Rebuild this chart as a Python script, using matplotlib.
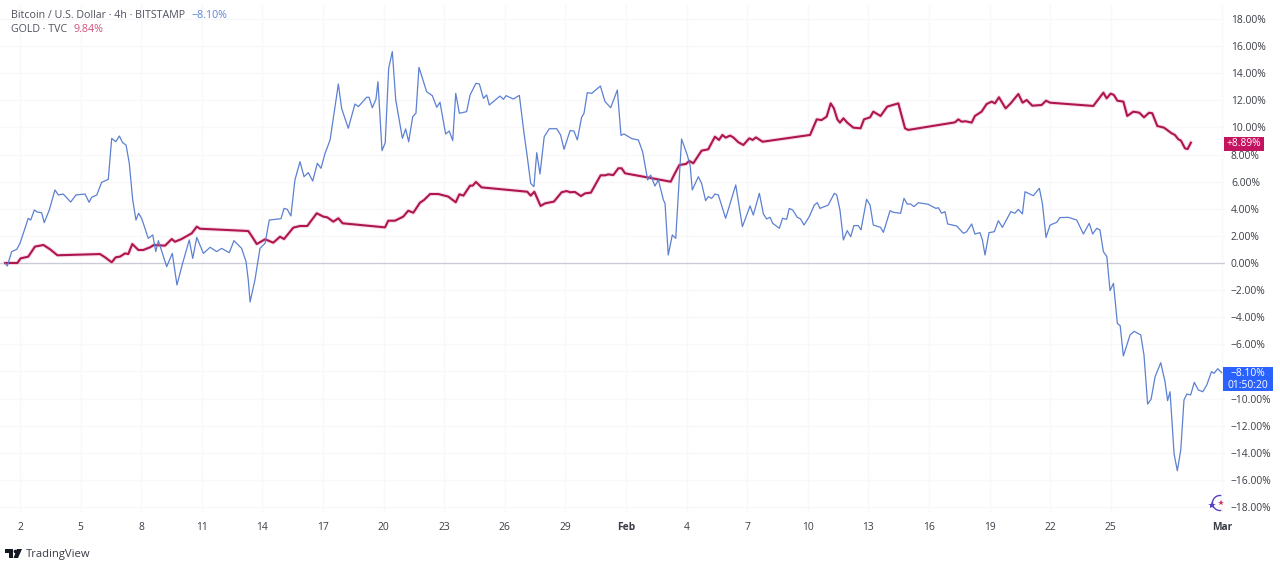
import matplotlib
matplotlib.use('Agg')
import matplotlib.pyplot as plt
from matplotlib.patches import Rectangle, Polygon, Arc

# day on the chart's time scale, change in %
btc_day = [1.26, 1.37, 1.59, 1.84, 2.00, 2.41, 2.53, 2.71, 2.86, 3.07, 3.20, 3.45, 3.73, 3.90, 4.14, 4.51, 4.77, 5.22, 5.42, 5.55,
           5.80, 6.04, 6.37, 6.54, 6.74, 6.92, 7.08, 7.25, 7.41, 7.58, 7.74, 7.87, 8.02, 8.35, 8.57, 8.72, 8.85, 9.26, 9.54, 9.77,
           10.05, 10.38, 10.55, 10.75, 11.08, 11.41, 11.74, 11.98, 12.36, 12.59, 12.97, 13.19, 13.30, 13.39, 13.63, 13.88, 14.13, 14.34, 14.92, 15.07,
           15.23, 15.41, 15.61, 15.86, 16.06, 16.27, 16.49, 16.72, 16.90, 17.10, 17.35, 17.76, 17.92, 18.25, 18.58, 18.75, 19.16, 19.28, 19.44, 19.62,
           19.72, 19.92, 20.08, 20.25, 20.43, 20.60, 20.93, 21.09, 21.24, 21.44, 21.60, 21.75, 22.13, 22.41, 22.63, 22.79, 23.07, 23.25, 23.42, 23.57,
           23.75, 24.11, 24.28, 24.57, 24.74, 24.94, 25.10, 25.23, 25.76, 25.93, 26.06, 26.42, 26.72, 26.95, 27.11, 27.28, 27.44, 27.58, 27.74, 27.95,
           28.20, 28.57, 28.76, 28.93, 29.23, 29.42, 29.59, 29.80, 29.92, 30.08, 30.30, 30.73, 30.96, 31.24, 31.57, 31.75, 31.90, 32.28, 32.61, 32.82,
           33.07, 33.22, 33.43, 33.60, 33.85, 33.93, 34.09, 34.29, 34.46, 34.75, 35.03, 35.17, 35.28, 35.58, 35.74, 35.94, 36.07, 36.24, 36.40, 36.57,
           36.93, 37.43, 37.76, 38.14, 38.30, 38.60, 38.80, 38.96, 39.13, 39.26, 39.59, 39.75, 39.95, 40.08, 40.25, 40.48, 40.64, 40.81, 41.07, 41.32,
           41.47, 41.60, 42.01, 42.31, 42.43, 42.59, 42.76, 42.95, 43.12, 43.28, 43.50, 43.63, 43.91, 44.08, 44.24, 44.60, 44.74, 45.07, 45.23, 45.59,
           45.76, 45.92, 46.09, 46.25, 46.47, 46.96, 47.34, 47.46, 47.62, 47.79, 47.92, 48.37, 48.70, 48.86, 49.11, 49.27, 49.52, 49.64, 49.77, 49.97,
           50.23, 50.43, 50.63, 51.05, 51.25, 51.42, 51.62, 51.75, 52.16, 52.46, 52.61, 52.79, 52.99, 53.32, 53.48, 53.89, 54.31, 54.64, 54.93, 55.10,
           55.30, 55.46, 55.63, 55.80, 55.96, 56.13, 56.32, 56.46, 56.62, 56.95, 57.15, 57.48, 57.64, 57.82, 57.99, 58.19, 58.47, 58.68, 58.81, 58.93,
           59.13, 59.29, 59.46, 59.62, 59.76, 59.95, 60.13, 60.33, 60.55, 60.75, 60.98, 61.11, 61.29, 61.49]
btc_pct = [0.00, -0.22, 0.84, 1.01, 1.45, 3.30, 3.17, 3.91, 3.76, 3.71, 2.98, 3.91, 5.39, 5.02, 5.09, 4.50, 5.02, 5.09, 4.48, 4.85,
           5.02, 5.95, 6.17, 9.20, 8.95, 9.37, 8.88, 8.71, 7.36, 4.65, 3.17, 3.67, 3.30, 1.82, 2.07, 0.84, 1.65, -0.27, 0.71, -1.62,
           -0.02, 1.70, 0.34, 1.89, 0.71, 1.16, 0.84, 1.08, 0.76, 1.65, 1.08, 0.10, -1.25, -2.88, -1.25, 1.08, 1.45, 3.17, 3.27, 4.03,
           3.96, 3.47, 6.13, 7.48, 6.37, 6.67, 6.05, 7.36, 6.99, 8.09, 9.08, 13.21, 11.41, 9.94, 11.73, 11.54, 12.23, 12.23, 11.46, 12.08,
           13.38, 8.29, 8.88, 14.37, 15.60, 12.03, 9.20, 9.89, 8.95, 10.80, 11.05, 14.44, 12.64, 12.35, 11.49, 11.86, 9.52, 9.74, 9.03, 12.52,
           11.05, 11.17, 12.40, 13.26, 13.21, 12.15, 12.40, 11.66, 12.32, 12.08, 12.35, 12.10, 12.37, 9.57, 7.85, 5.88, 5.63, 8.14, 6.57, 9.32,
           9.91, 9.91, 9.45, 8.39, 9.77, 9.74, 9.08, 10.75, 11.05, 12.57, 12.52, 13.06, 11.91, 11.46, 12.77, 9.42, 9.52, 9.18, 9.08, 8.22,
           6.13, 6.49, 5.68, 6.13, 4.65, 4.40, 0.59, 2.07, 1.82, 9.15, 7.97, 7.23, 5.39, 6.37, 5.88, 4.60, 4.90, 4.77, 5.09, 5.02,
           3.30, 5.76, 2.68, 4.21, 3.54, 5.14, 3.62, 3.25, 3.37, 2.93, 2.56, 3.30, 3.22, 4.03, 3.91, 3.37, 3.25, 2.80, 3.42, 4.28,
           4.45, 4.03, 4.28, 5.14, 5.02, 3.91, 1.70, 2.39, 1.94, 2.76, 2.76, 2.44, 4.70, 4.28, 2.80, 2.63, 2.26, 3.86, 3.74, 3.67,
           4.77, 4.35, 4.35, 4.16, 4.45, 4.33, 4.03, 4.08, 3.67, 3.79, 2.88, 2.73, 2.19, 2.31, 2.88, 2.14, 2.24, 1.70, 0.59, 2.24,
           2.31, 3.12, 2.63, 3.79, 3.67, 3.96, 3.62, 5.26, 4.97, 5.51, 4.40, 1.89, 2.80, 3.00, 3.35, 3.37, 3.17, 2.14, 2.93, 2.14,
           2.56, 2.44, 0.84, 0.47, -2.04, -1.50, -4.45, -4.63, -6.86, -5.31, -5.04, -5.31, -6.79, -10.41, -10.06, -8.39, -7.36, -8.76, -10.16, -9.50,
           -14.10, -15.33, -13.80, -10.11, -9.67, -9.74, -8.81, -9.37, -9.50, -9.00, -8.02, -8.14, -7.80, -8.10]

gold_day = [1.26, 1.87, 2.03, 2.41, 2.74, 3.16, 3.49, 3.85, 5.96, 6.21, 6.54, 6.74, 6.95, 7.20, 7.36, 7.56, 7.86, 8.10, 8.44, 8.63,
            9.18, 9.51, 9.67, 10.00, 10.50, 10.75, 10.91, 13.30, 13.47, 13.72, 14.13, 14.54, 14.87, 15.07, 15.53, 15.86, 16.22, 16.69, 17.02, 17.21,
            17.51, 17.76, 17.97, 20.07, 20.23, 20.56, 20.97, 21.22, 21.47, 21.80, 22.00, 22.30, 22.71, 23.20, 23.57, 23.75, 23.95, 24.28, 24.41, 24.57,
            24.85, 27.11, 27.28, 27.46, 27.77, 27.99, 28.43, 28.81, 29.06, 29.23, 29.47, 29.77, 29.97, 30.26, 30.74, 30.96, 31.12, 31.37, 31.62, 31.78,
            31.95, 34.21, 34.42, 34.64, 34.97, 35.13, 35.33, 35.74, 36.07, 36.40, 36.60, 36.77, 36.93, 37.15, 37.31, 37.56, 37.81, 38.10, 38.27, 38.43,
            38.76, 41.11, 41.44, 41.68, 41.93, 42.13, 42.29, 42.46, 42.59, 42.76, 42.95, 43.25, 43.61, 43.78, 44.08, 44.24, 44.60, 44.93, 45.48, 45.81,
            45.97, 48.28, 48.45, 48.61, 48.81, 49.11, 49.27, 49.60, 49.85, 50.10, 50.26, 50.46, 50.79, 51.04, 51.42, 51.63, 51.83, 52.11, 52.57, 52.79,
            52.99, 55.13, 55.63, 55.79, 55.99, 56.15, 56.32, 56.62, 56.81, 57.11, 57.41, 57.64, 57.89, 58.05, 58.30, 58.63, 59.01, 59.17, 59.34, 59.47,
            59.67, 59.80, 59.96]
gold_pct = [0.00, 0.00, 0.34, 0.47, 1.21, 1.33, 1.01, 0.57, 0.66, 0.42, 0.05, 0.42, 0.47, 0.71, 0.66, 1.40, 0.96, 0.96, 1.16, 1.33,
            1.28, 1.77, 1.57, 1.77, 2.19, 2.68, 2.53, 2.36, 1.99, 1.40, 1.75, 1.50, 1.94, 1.77, 2.61, 2.73, 2.73, 3.67, 3.42, 3.37,
            3.05, 3.30, 2.93, 2.63, 3.12, 3.12, 3.42, 3.86, 3.71, 4.45, 4.65, 5.09, 5.09, 4.90, 4.48, 5.07, 4.97, 5.71, 5.71, 5.98,
            5.58, 5.26, 4.97, 5.26, 4.21, 4.40, 4.53, 5.22, 5.31, 5.22, 5.24, 4.94, 5.14, 5.19, 6.47, 6.47, 6.54, 6.49, 6.99, 6.99,
            6.62, 6.00, 6.62, 7.23, 7.31, 7.53, 7.36, 8.29, 8.39, 9.32, 9.08, 9.45, 9.25, 9.40, 9.27, 8.91, 8.71, 9.20, 9.08, 9.27,
            8.95, 9.45, 10.60, 10.55, 10.80, 11.78, 11.41, 10.60, 10.36, 10.68, 10.36, 9.99, 9.94, 10.60, 10.75, 11.17, 10.85, 11.54, 11.78, 9.94,
            9.82, 10.38, 10.60, 10.43, 10.46, 10.36, 10.85, 11.17, 11.73, 11.91, 11.78, 12.23, 11.41, 11.78, 12.47, 11.83, 12.03, 11.61, 11.66, 11.98,
            11.83, 11.59, 12.57, 12.15, 12.50, 12.40, 11.98, 11.91, 10.85, 11.17, 11.09, 10.75, 11.09, 11.05, 10.11, 9.99, 9.57, 9.45, 9.13, 9.03,
            8.46, 8.41, 8.88]

x_ticks = [2, 5, 8, 11, 14, 17, 20, 23, 26, 29, 32, 35, 38, 41, 44, 47, 50, 53, 56, 61.5]
x_labels = ['2', '5', '8', '11', '14', '17', '20', '23', '26', '29', 'Feb', '4', '7', '10', '13', '16', '19', '22', '25', 'Mar']
y_ticks = list(range(-18, 20, 2))
hidden_tick = -8  # sits under the BTC price badge

plt.rcParams['font.family'] = ['Open Sans', 'DejaVu Sans']

W, H = 1280, 567
fig = plt.figure(figsize=(W / 100, H / 100), dpi=100, facecolor='white')
ax = fig.add_axes([0, (H - 513) / H, 1225 / W, 508 / H])


def fx(px):
    return px / W


def fy(py):
    return 1 - py / H


grid_col = '#f8f8fa'
ax.set_xticks(x_ticks)
ax.set_xticklabels(x_labels)
ax.set_yticks(y_ticks)
ax.set_yticklabels(['' if v == hidden_tick else ('\u2212' if v < 0 else '') + '%.2f%%' % abs(v) for v in y_ticks])
ax.set_xlim(1.01, 61.65)
ax.set_ylim(-18.45, 19.04)
ax.yaxis.tick_right()
ax.grid(True, color=grid_col, lw=1)
ax.set_axisbelow(True)
for s in ax.spines.values():
    s.set_visible(False)
ax.tick_params(axis='both', length=0, labelcolor='#3a3d46', labelsize=7.4)
ax.tick_params(axis='y', pad=4.3)
ax.tick_params(axis='x', pad=6.8)
for lab in ax.get_xticklabels():
    if lab.get_text() in ('Feb', 'Mar'):
        lab.set_fontweight('bold')

ax.axhline(0, color='#c9ccd4', lw=0.9, zorder=1)
ax.plot(gold_day, gold_pct, color='#f7c6d6', lw=3, alpha=0.6, zorder=2)
ax.plot(gold_day, gold_pct, color='#ad1650', lw=1.5, zorder=3)
ax.plot(btc_day, btc_pct, color='#5c80d2', lw=0.9, zorder=4)

# legend lines
fig.text(fx(11), fy(15), 'Bitcoin / U.S. Dollar \u00b7 4h \u00b7 BITSTAMP', fontsize=7.7, color='#50535e', va='center')
fig.text(fx(192), fy(15), '\u22128.10%', fontsize=7.7, color='#5c85d6', va='center')
fig.text(fx(11), fy(29), 'GOLD \u00b7 TVC', fontsize=7.7, color='#50535e', va='center')
fig.text(fx(73), fy(29), '9.84%', fontsize=7.7, color='#d0507a', va='center')

# price badges
fig.add_artist(Rectangle((fx(1224), fy(151)), 40 / W, 14 / H, transform=fig.transFigure, facecolor='#c4145f', edgecolor='none', zorder=10))
fig.text(fx(1244), fy(144), '+8.89%', fontsize=7.4, color='white', ha='center', va='center', zorder=11)
fig.add_artist(Rectangle((fx(1223), fy(391)), 50 / W, 24 / H, transform=fig.transFigure, facecolor='#2962ff', edgecolor='none', zorder=10))
fig.text(fx(1248), fy(373), '\u22128.10%', fontsize=7.4, color='white', ha='center', va='center', zorder=11)
fig.text(fx(1248), fy(385), '01:50:20', fontsize=7.4, color='white', ha='center', va='center', zorder=11)

# little assistant icon by the axis
ov = fig.add_axes([0, 0, 1, 1], facecolor='none')
ov.set_xlim(0, W)
ov.set_ylim(H, 0)
ov.axis('off')
ov.add_patch(Arc((1220, 503), 15, 15, theta1=80, theta2=280, color='#5b3fc4', lw=1))
ov.plot([1212], [505], marker='*', ms=6, color='#5b3fc4', mew=0)
ov.plot([1221], [503], marker='*', ms=4, color='#d0306a', mew=0)

# TradingView logo
ov.add_patch(Polygon([(5, 549), (13, 549), (13, 558), (9, 558), (9, 553), (5, 553)], facecolor='#131722', edgecolor='none'))
ov.plot([15], [551], marker='o', ms=2.6, color='#131722', mew=0)
ov.add_patch(Polygon([(17, 549), (22, 549), (18, 558), (13.5, 558)], facecolor='#131722', edgecolor='none'))
fig.text(fx(26), fy(554.5), 'TradingView', fontsize=8.1, color='#3a3d46', va='center')

fig.savefig('out.png', dpi=100)
